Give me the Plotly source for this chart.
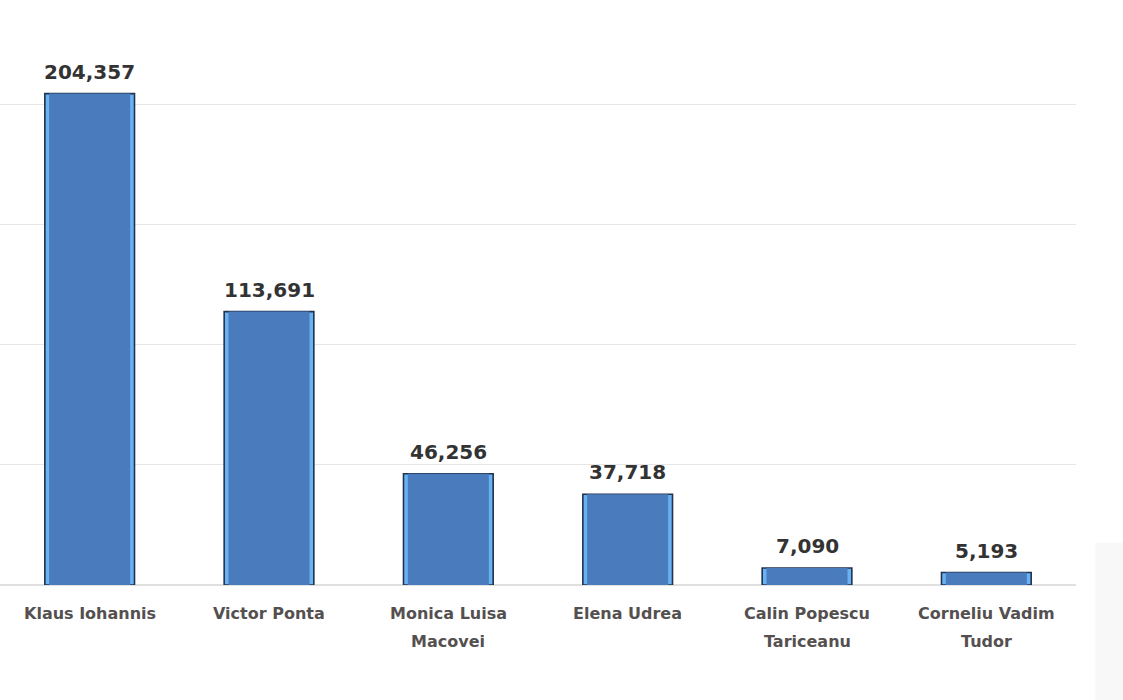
import plotly.graph_objects as go

candidates = ["Klaus Iohannis", "Victor Ponta", "Monica Luisa Macovei", "Elena Udrea",
              "Calin Popescu Tariceanu", "Corneliu Vadim Tudor"]
label_line1 = ["Klaus Iohannis", "Victor Ponta", "Monica Luisa", "Elena Udrea",
               "Calin Popescu", "Corneliu Vadim"]
label_line2 = ["", "", "Macovei", "", "Tariceanu", "Tudor"]
votes = [204357, 113691, 46256, 37718, 7090, 5193]
y_ticks = [0, 50000, 100000, 150000, 200000]

fig = go.Figure()
# outer bar: light-blue bevel edge with dark outline
fig.add_trace(go.Bar(
    x=candidates, y=votes, width=0.5,
    marker=dict(color="#68b2f4", line=dict(color="#22324d", width=1.6)),
    hoverinfo="skip", showlegend=False,
))
# inner bar: main fill
fig.add_trace(go.Bar(
    x=candidates, y=votes, width=0.452,
    marker=dict(color="#4a7cbd", line=dict(width=0)),
    showlegend=False,
))

annotations = []
for c, v in zip(candidates, votes):
    annotations.append(dict(x=c, y=v, xref="x", yref="y", text=f"<b>{v:,}</b>",
                            showarrow=False, yanchor="bottom", yshift=8,
                            font=dict(family="DejaVu Sans", size=20, color="#333333")))
for c, l1, l2 in zip(candidates, label_line1, label_line2):
    annotations.append(dict(x=c, y=0, xref="x", yref="y", text=f"<b>{l1}</b>",
                            showarrow=False, yanchor="middle", yshift=-28,
                            font=dict(family="DejaVu Sans", size=16, color="#555050")))
    if l2:
        annotations.append(dict(x=c, y=0, xref="x", yref="y", text=f"<b>{l2}</b>",
                                showarrow=False, yanchor="middle", yshift=-56,
                                font=dict(family="DejaVu Sans", size=16, color="#555050")))

fig.update_layout(
    width=1123, height=700,
    margin=dict(l=0, r=47, t=56, b=115),
    paper_bgcolor="white", plot_bgcolor="white",
    barmode="overlay", bargap=0.5,
    annotations=annotations,
    xaxis=dict(showticklabels=False, showgrid=False, zeroline=False, showline=False,
               range=[-0.5, 5.5]),
    yaxis=dict(range=[0, 220000], tickvals=y_ticks, showticklabels=False,
               showgrid=True, gridcolor="#e6e6e6", gridwidth=1,
               zeroline=True, zerolinecolor="#e0e0e0", zerolinewidth=1.5),
    shapes=[dict(type="rect", xref="paper", yref="paper", x0=1.018, x1=1.05, y0=-0.25, y1=0.08,
                 fillcolor="#f8f8f8", line=dict(width=0), layer="below")],
)

fig.write_html("out.html", config={"displayModeBar": False},
               post_script="document.body.style.margin='0';")
